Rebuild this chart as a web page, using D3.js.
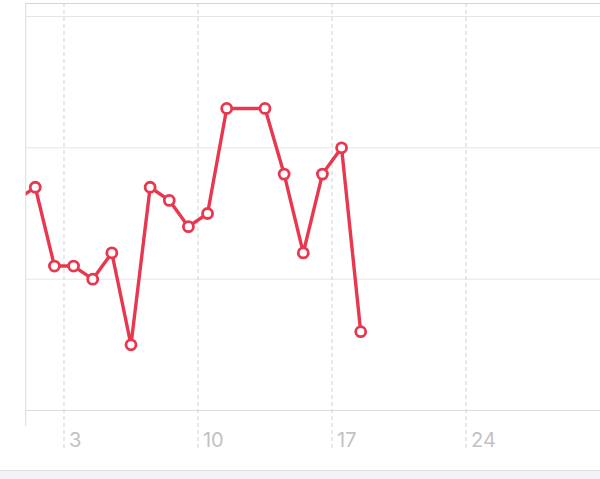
<!DOCTYPE html>
<html>
<head>
<meta charset="utf-8">
<script src="https://cdn.jsdelivr.net/npm/d3@7"></script>
<style>
  html, body { margin: 0; padding: 0; background: #fff; overflow: hidden; }
  svg { display: block; }
</style>
</head>
<body>
<div id="chart"></div>
<script>
// day of month (0 = last day of previous month) and value
const days = [0, 1, 2, 3, 4, 5, 6, 7, 8, 9, 10, 11, 13, 14, 15, 16, 17, 18];
const values = [16, 17, 11, 11, 10, 12, 5, 17, 16, 14, 15, 23, 23, 18, 12, 18, 20, 6];
const tickDays = [3, 10, 17, 24];
const gridValues = [0, 10, 20, 30];

const width = 600;
const height = 479;
const margin = { top: 16.5, right: 0, bottom: 68.5, left: 25.7 };

const svg = d3.select("#chart").append("svg")
    .attr("width", width)
    .attr("height", height);

// x: days elapsed since start of day 1
const x = d3.scaleLinear()
    .domain([0, 30])
    .range([margin.left, width - margin.right]);
const y = d3.scaleLinear()
    .domain([0, 30])
    .range([height - margin.bottom, margin.top]);

// footer bar
svg.append("rect")
    .attr("x", 0).attr("y", 470)
    .attr("width", width).attr("height", height - 470)
    .attr("fill", "#f2f2f7");
svg.append("line")
    .attr("x1", 0).attr("x2", width)
    .attr("y1", 470.5).attr("y2", 470.5)
    .attr("stroke", "#dedee2");

// horizontal grid
svg.append("g")
    .selectAll("line")
    .data(gridValues)
    .enter()
    .append("line")
    .attr("x1", margin.left).attr("x2", width)
    .attr("y1", d => y(d)).attr("y2", d => y(d))
    .attr("stroke", d => d === 0 ? "#dcdcdc" : "#e6e6e6")
    .attr("stroke-width", 1);

// top border
svg.append("line")
    .attr("x1", margin.left).attr("x2", width)
    .attr("y1", 3.5).attr("y2", 3.5)
    .attr("stroke", "#d6d6d6");

// left axis line
svg.append("line")
    .attr("x1", margin.left).attr("x2", margin.left)
    .attr("y1", 3).attr("y2", 426)
    .attr("stroke", "#dcdcdc");

// vertical dashed ticks + labels
const ticks = svg.append("g")
    .selectAll("g")
    .data(tickDays)
    .enter()
    .append("g")
    .attr("transform", d => `translate(${x(d - 1)},0)`);
ticks.append("line")
    .attr("y1", 3).attr("y2", 451)
    .attr("stroke", "#d2d2d2")
    .attr("stroke-dasharray", "4,3");
ticks.append("text")
    .attr("x", 5)
    .attr("y", 446.5)
    .attr("font-family", "Inter, 'Noto Sans', sans-serif")
    .attr("font-size", 20)
    .attr("fill", "#c2c2c5")
    .text(d => d);

// data
const data = days.map((d, i) => ({ day: d, value: values[i] }));

svg.append("clipPath")
    .attr("id", "plot-clip")
    .append("rect")
    .attr("x", margin.left).attr("y", 0)
    .attr("width", width - margin.left).attr("height", height);

const line = d3.line()
    .x(d => x(d.day - 0.5))
    .y(d => y(d.value));

svg.append("path")
    .datum(data)
    .attr("clip-path", "url(#plot-clip)")
    .attr("fill", "none")
    .attr("stroke", "#e8384f")
    .attr("stroke-width", 3.4)
    .attr("stroke-linejoin", "round")
    .attr("d", line);

svg.append("g")
    .selectAll("circle")
    .data(data.filter(d => d.day >= 1))
    .enter()
    .append("circle")
    .attr("cx", d => x(d.day - 0.5))
    .attr("cy", d => y(d.value))
    .attr("r", 5)
    .attr("fill", "#fff")
    .attr("stroke", "#e8384f")
    .attr("stroke-width", 2.8);
</script>
</body>
</html>
